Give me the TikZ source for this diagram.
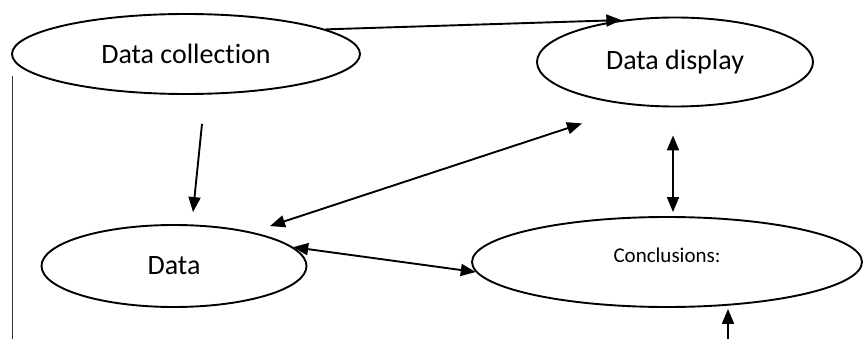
\documentclass[tikz,border=0pt]{standalone}
\usepackage{fontspec}
\setmainfont{Carlito}[Ligatures=NoCommon]
\usetikzlibrary{shapes.geometric,arrows.meta}
\tikzset{
  stage/.style={draw, ellipse, line width=1.9pt, inner sep=0pt, font=\fontsize{28}{30}\selectfont},
  link/.style={line width=1.9pt, -{Triangle[length=15pt,width=12pt]}},
  dlink/.style={line width=1.9pt, {Triangle[length=15pt,width=12pt]}-{Triangle[length=15pt,width=12pt]}}
}
\begin{document}
\begin{tikzpicture}[x=1pt,y=-1pt]
\useasboundingbox (0,0) rectangle (866,339);
\node[stage, minimum width=348pt, minimum height=80pt] (coll) at (186,54) {Data collection};
\node[stage, minimum width=276pt, minimum height=89pt] (disp) at (675,62) {Data display};
\node[stage, minimum width=265pt, minimum height=82pt] (data) at (174,266) {Data};
\node[stage, minimum width=390pt, minimum height=90pt, text depth=14pt,
      font=\fontsize{21}{23}\selectfont] (concl) at (667,262) {Conclusions:};
%LEFT RULE
\coordinate (ruletop) at (12,76);
\coordinate (rulebot) at (12,339);
\draw[line width=0.9pt, color=black!80] (ruletop) -- (rulebot);
%collection to display
\draw[link] (coll.10) -- (disp.142);
%collection to data
\draw[link] ([xshift=16pt,yshift=-29pt]coll.south) -- ([xshift=19pt,yshift=12pt]data.north);
%data to display
\draw[dlink] ([xshift=96pt,yshift=-2pt]data.north) -- ([xshift=-93pt,yshift=-16pt]disp.south);
%data to conclusions
\draw[dlink] (data.9) -- (concl.183);
%display to conclusions
\draw[dlink] ([xshift=-2pt,yshift=-28pt]disp.south) -- ([xshift=6pt,yshift=4pt]concl.north);
%into conclusions from below
\coordinate (feed) at (728,339);
\draw[link] (feed) -- ([xshift=61pt,yshift=-1pt]concl.south);
\end{tikzpicture}
\end{document}
